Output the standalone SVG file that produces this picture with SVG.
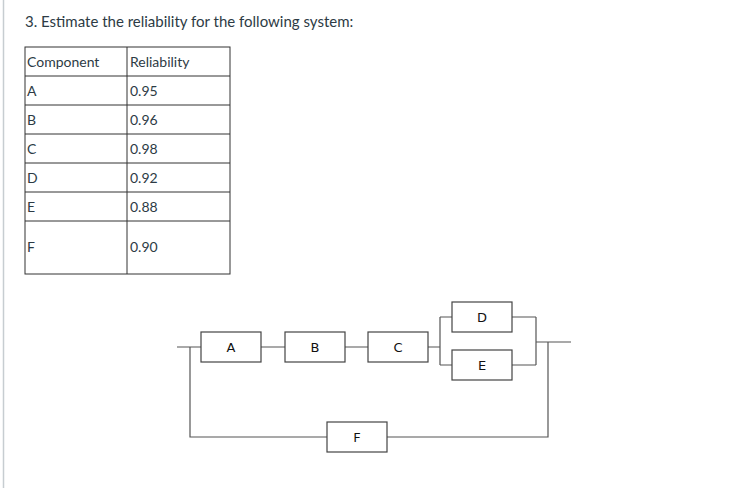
<svg xmlns="http://www.w3.org/2000/svg" width="731" height="488" viewBox="0 0 731 488">
<style>
.t{font-family:Lato,"Liberation Sans",sans-serif;fill:#2d3b45;font-size:15px}
.c{font-family:Lato,"Liberation Sans",sans-serif;fill:#2d3b45;font-size:14px}
.b{fill:#fff;stroke:#444;stroke-width:1.2}
.l{fill:none;stroke:#555;stroke-width:1.2}
.n{font-family:"DejaVu Sans",sans-serif;font-size:13px;fill:#111;text-anchor:middle}
</style>
<rect width="731" height="488" fill="#fff"/>
<line x1="3.5" y1="0" x2="3.5" y2="488" stroke="#c7cdd1" stroke-width="1.5"/>
<text class="t" x="25" y="27">3. Estimate the reliability for the following system:</text>
<g id="table" fill="none" stroke="#333" stroke-width="1">
<rect x="25" y="47" width="205" height="227"/>
<line x1="127" y1="47" x2="127" y2="274"/>
<line x1="25" y1="76" x2="230" y2="76"/>
<line x1="25" y1="105" x2="230" y2="105"/>
<line x1="25" y1="134" x2="230" y2="134"/>
<line x1="25" y1="163" x2="230" y2="163"/>
<line x1="25" y1="192" x2="230" y2="192"/>
<line x1="25" y1="221" x2="230" y2="221"/>
</g>
<g class="c">
<text x="27" y="67">Component</text><text x="130" y="67">Reliability</text>
<text x="27" y="96">A</text><text x="130" y="96">0.95</text>
<text x="27" y="125">B</text><text x="130" y="125">0.96</text>
<text x="27" y="154">C</text><text x="130" y="154">0.98</text>
<text x="27" y="183">D</text><text x="130" y="183">0.92</text>
<text x="27" y="212">E</text><text x="130" y="212">0.88</text>
<text x="27" y="252">F</text><text x="130" y="252">0.90</text>
</g>
<g id="connectors" class="l">
<path d="M177 347H201M261 347H285M345 347H368M428 347H440M440 317V365M440 317H452M440 365H452M512 317H536M512 365H536M536 317V365M536 342H571"/>
<path d="M190 347V437H327M387 437H548V342"/>
</g>
<g id="A"><rect class="b" x="201" y="332" width="60" height="30"/><text class="n" x="231" y="352">A</text></g>
<g id="B"><rect class="b" x="285" y="332" width="60" height="30"/><text class="n" x="315" y="352">B</text></g>
<g id="C"><rect class="b" x="368" y="332" width="60" height="30"/><text class="n" x="398" y="352">C</text></g>
<g id="D"><rect class="b" x="452" y="302" width="60" height="30"/><text class="n" x="482" y="322">D</text></g>
<g id="E"><rect class="b" x="452" y="350" width="60" height="30"/><text class="n" x="482" y="370">E</text></g>
<g id="F"><rect class="b" x="327" y="422" width="60" height="30"/><text class="n" x="357" y="442">F</text></g>
</svg>
